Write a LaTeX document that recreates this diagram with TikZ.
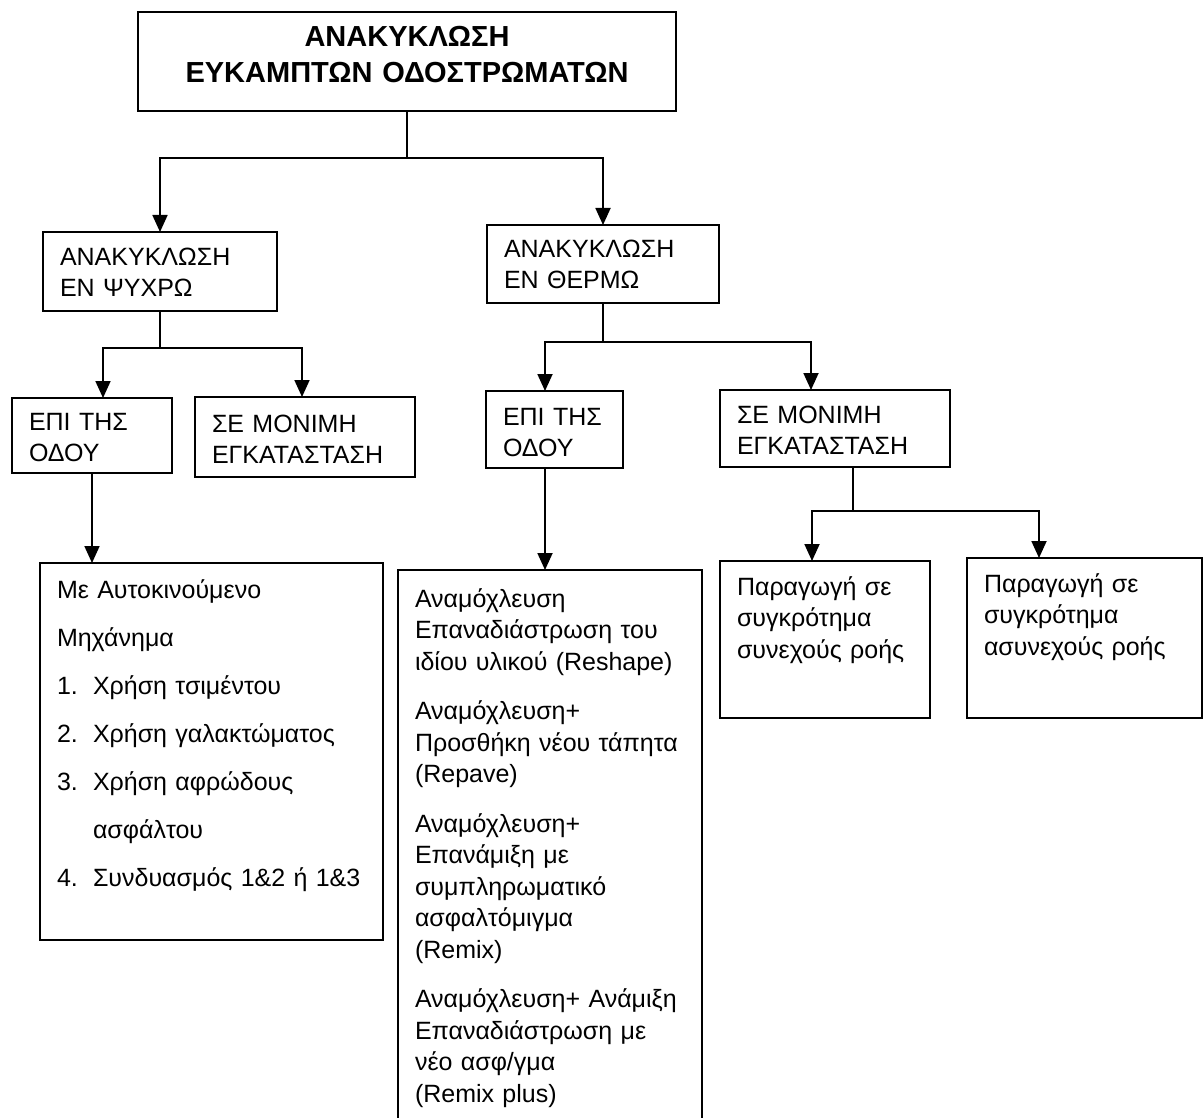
\documentclass[tikz,border=0pt]{standalone}
\usepackage{fontspec}
\setmainfont{Liberation Sans}
\usetikzlibrary{arrows.meta}

\tikzset{
  box/.style={draw, line width=0.9pt, anchor=north west, inner xsep=8.5pt, inner ysep=0pt,
    outer sep=0pt, align=left, font=\fontsize{12.5}{15.75}\selectfont},
  titlebox/.style={box, align=center, font=\bfseries\fontsize{14.5}{18}\selectfont},
  listbox/.style={box, font=\fontsize{12.5}{24}\selectfont},
  stem/.style={line width=0.9pt},
  arr/.style={line width=0.9pt, -{Triangle[width=7.5pt,length=8.5pt]}}
}

\begin{document}
\begin{tikzpicture}[x=0.5pt,y=-0.5pt]
        \useasboundingbox (0,0) rectangle (1204,1118);
        \node[titlebox, text width=252pt, text height=17.5pt, text depth=32pt] (top) at (138,12)
            {ΑΝΑΚΥΚΛΩΣΗ\\ΕΥΚΑΜΠΤΩΝ ΟΔΟΣΤΡΩΜΑΤΩΝ};
        \node[box, text width=100pt, text height=16.5pt, text depth=23pt] (coldtop) at (43,232)
            {ΑΝΑΚΥΚΛΩΣΗ\\ΕΝ ΨΥΧΡΩ};
        \node[box, text width=99pt, text height=16pt, text depth=23pt] (hottop) at (487,225)
            {ΑΝΑΚΥΚΛΩΣΗ\\ΕΝ ΘΕΡΜΩ};
        \node[box, text width=63pt, text height=16pt, text depth=21.5pt] (coldroad) at (12,398)
            {ΕΠΙ ΤΗΣ\\ΟΔΟΥ};
        \node[box, text width=93pt, text height=17.5pt, text depth=22.5pt] (coldperm) at (195,397)
            {ΣΕ ΜΟΝΙΜΗ\\ΕΓΚΑΤΑΣΤΑΣΗ};
        \node[box, text width=51.5pt, text height=17pt, text depth=21.5pt] (hotroad) at (486,391)
            {ΕΠΙ ΤΗΣ\\ΟΔΟΥ};
        \node[box, text width=98pt, text height=16.5pt, text depth=22pt] (hotperm) at (720,390)
            {ΣΕ ΜΟΝΙΜΗ\\ΕΓΚΑΤΑΣΤΑΣΗ};
        \node[listbox, text width=154.5pt, text height=17.5pt, text depth=171pt] (coldlist) at (40,563)
            {Με Αυτοκινούμενο\\Μηχάνημα\\
             \makebox[18pt][l]{1.}Χρήση τσιμέντου\\
             \makebox[18pt][l]{2.}Χρήση γαλακτώματος\\
             \makebox[18pt][l]{3.}Χρήση αφρώδους\\
             \hspace*{18pt}ασφάλτου\\
             \makebox[18pt][l]{4.}Συνδυασμός 1\&2 ή 1\&3};
        \node[box, text width=135pt, text height=18.5pt, text depth=270pt] (hotlist) at (398,570)
            {Αναμόχλευση\\Επαναδιάστρωση του\\ιδίου υλικού (Reshape)\\[9pt]
             Αναμόχλευση+\\Προσθήκη νέου τάπητα\\(Repave)\\[9pt]
             Αναμόχλευση+\\Επανάμιξη με\\συμπληρωματικό\\ασφαλτόμιγμα\\(Remix)\\[9pt]
             Αναμόχλευση+ Ανάμιξη\\Επαναδιάστρωση με\\νέο ασφ/γμα\\(Remix plus)};
        \node[box, text width=88pt, text height=17pt, text depth=61.5pt] (cont) at (720,561)
            {Παραγωγή σε\\συγκρότημα\\συνεχούς ροής};
        \node[box, text width=100.5pt, text height=17pt, text depth=63pt] (discont) at (967,558)
            {Παραγωγή σε\\συγκρότημα\\ασυνεχούς ροής};

        \draw[stem] (top.south) -- ++(0,47) coordinate (tj);
        \draw[arr] (tj) -| (coldtop.north);
        \draw[arr] (tj) -| (hottop.north);
        \draw[stem] (coldtop.south) -- ++(0,37) coordinate (cj);
        \draw[arr] (cj) -| ([xshift=45.5pt]coldroad.north west);
        \draw[arr] (cj) -| ([xshift=53.5pt]coldperm.north west);
        \draw[arr] (coldroad.south) -- (coldroad.south |- coldlist.north);
        \draw[stem] (hottop.south) -- ++(0,39) coordinate (hj);
        \draw[arr] (hj) -| ([xshift=29.5pt]hotroad.north west);
        \draw[arr] (hj) -| ([xshift=45.5pt]hotperm.north west);
        \draw[arr] ([xshift=29.5pt]hotroad.south west) -- ([xshift=29.5pt]hotroad.south west |- hotlist.north);
        \draw[stem] ([xshift=66.5pt]hotperm.south west) -- ++(0,44) coordinate (pj);
        \draw[arr] (pj) -| ([xshift=46pt]cont.north west);
        \draw[arr] (pj) -| ([xshift=36pt]discont.north west);
    \end{tikzpicture}
\end{document}
